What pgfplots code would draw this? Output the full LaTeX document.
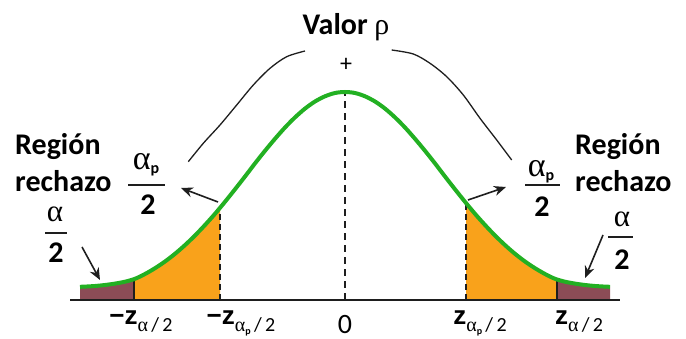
\documentclass[border=0pt]{standalone}
\usepackage{fontspec}
\setmainfont{Carlito}
\newfontfamily\grk{Liberation Serif}
\newfontfamily\lsans{Liberation Sans}
\usepackage{pgfplots}
\pgfplotsset{compat=1.18}
\usetikzlibrary{arrows.meta}
\definecolor{cgreen}{RGB}{34,176,34}
\definecolor{corange}{RGB}{249,162,27}
\definecolor{cbrown}{RGB}{140,76,86}
\definecolor{cline}{RGB}{30,30,30}
\newcommand\fs[1]{\fontsize{#1bp}{#1bp}\selectfont}
\newcommand\ap{{\grk α}\raisebox{-3bp}{\fs{10}\bfseries p}}
\begin{document}
\begin{tikzpicture}
\begin{axis}[scale only axis, width=686bp, height=339bp,
  xmin=-3.45, xmax=3.41, ymin=-39, ymax=300,
  axis lines=none, clip=false]
\coordinate (bbSW) at (rel axis cs:0,0);
\coordinate (bbNE) at (rel axis cs:1,1);
% filled regions
\addplot[fill=cbrown, draw=none] coordinates {(-2.65,0)(-2.65,13.2)(-2.6,13.4)(-2.5,14)(-2.4,15)(-2.3,16.4)(-2.2,18.3)(-2.11,20.9)(-2.11,0)};
\addplot[fill=corange, draw=none] coordinates {(-2.11,0)(-2.11,20.9)(-2.0,26)(-1.9,31.8)(-1.8,38.5)(-1.7,46.2)(-1.6,54.9)(-1.5,64.5)(-1.4,75)(-1.3,86.2)(-1.25,92.1)(-1.25,0)};
\addplot[fill=corange, draw=none] coordinates {(1.21,0)(1.21,97)(1.3,86.2)(1.4,75)(1.5,64.5)(1.6,54.9)(1.7,46.2)(1.8,38.5)(1.9,31.8)(2.0,26)(2.1,21.2)(2.12,20.6)(2.12,0)};
\addplot[fill=cbrown, draw=none] coordinates {(2.12,0)(2.12,20.6)(2.2,18.3)(2.3,16.4)(2.4,15)(2.5,14)(2.6,13.4)(2.65,13.2)(2.65,0)};
% baseline
\addplot[cline, line width=2bp] coordinates {(-2.75,0)(2.75,0)};
% vertical lines
\addplot[cline, line width=1.3bp] coordinates {(-2.11,0)(-2.11,20.9)};
\addplot[cline, line width=1.3bp] coordinates {(2.12,0)(2.12,20.6)};
\addplot[cline, line width=1.6bp, dash pattern=on 6bp off 4bp] coordinates {(-1.25,0)(-1.25,92.1)};
\addplot[cline, line width=1.6bp, dash pattern=on 6bp off 4bp] coordinates {(1.21,0)(1.21,97)};
\addplot[cline, line width=1.6bp, dash pattern=on 7bp off 5bp] coordinates {(0,0)(0,208)};
% curve
\addplot[cgreen, line width=4bp, smooth] coordinates {
(-2.65,13.2)(-2.6,13.4)(-2.5,14)(-2.4,15)(-2.3,16.4)(-2.2,18.3)(-2.1,21.2)(-2.0,26)(-1.9,31.8)(-1.8,38.5)(-1.7,46.2)(-1.6,54.9)(-1.5,64.5)(-1.4,75)(-1.3,86.2)(-1.2,98.2)(-1.1,110.7)(-1.0,123.5)(-0.9,136.6)(-0.8,149.2)(-0.7,161.2)(-0.6,172.5)(-0.5,182.6)(-0.4,191.4)(-0.3,198.5)(-0.2,203.7)(-0.1,207)(0,208)
(0.1,207)(0.2,203.7)(0.3,198.5)(0.4,191.4)(0.5,182.6)(0.6,172.5)(0.7,161.2)(0.8,149.2)(0.9,136.6)(1.0,123.5)(1.1,110.7)(1.2,98.2)(1.3,86.2)(1.4,75)(1.5,64.5)(1.6,54.9)(1.7,46.2)(1.8,38.5)(1.9,31.8)(2.0,26)(2.1,21.2)(2.2,18.3)(2.3,16.4)(2.4,15)(2.5,14)(2.6,13.4)(2.65,13.2)};
% outer arcs
\addplot[cline, line width=1.3bp, smooth] coordinates {(-1.567,138.3)(-1.417,156.7)(-1.25,175)(-1.083,195)(-0.917,215)(-0.75,231.7)(-0.583,243.3)(-0.40,249)};
\addplot[cline, line width=1.3bp, smooth] coordinates {(0.467,250)(0.683,246)(0.85,236.7)(1.017,223.3)(1.183,205)(1.35,181.7)(1.517,160)(1.667,140)};
% arrows
\addplot[cline, line width=1.6bp, -{Stealth[length=12bp,width=10bp]}] coordinates {(-1.27,98)(-1.64,112)};
\addplot[cline, line width=1.6bp, -{Stealth[length=12bp,width=10bp]}] coordinates {(1.23,100)(1.61,113)};
\addplot[cline, line width=1.6bp, -{Stealth[length=12bp,width=10bp]}] coordinates {(-2.63,53)(-2.45,20)};
\addplot[cline, line width=1.6bp, -{Stealth[length=12bp,width=10bp]}] coordinates {(2.58,65)(2.40,22)};
% texts
\node[anchor=base, inner sep=0] at (axis cs:0.01,265) {\fs{30}\bfseries Valor {\mdseries\grk ρ}};
\node[inner sep=0] at (axis cs:0.01,235) {\fs{24}+};
\node[anchor=base west, inner sep=0] at (axis cs:-3.30,145) {\fs{30}\bfseries Región};
\node[anchor=base west, inner sep=0] at (axis cs:-3.30,108) {\fs{30}\bfseries rechazo};
\node[anchor=base west, inner sep=0] at (axis cs:2.30,145) {\fs{30}\bfseries Región};
\node[anchor=base west, inner sep=0] at (axis cs:2.30,108) {\fs{30}\bfseries rechazo};
% fractions
\node[anchor=base, inner sep=0] at (axis cs:-1.99,130) {\fs{34}{\grk α}\raisebox{-4bp}{\fs{16}\bfseries p}};
\addplot[cline, line width=1.5bp] coordinates {(-2.17,115)(-1.80,115)};
\node[anchor=base, inner sep=0] at (axis cs:-1.97,85) {\fs{30}\bfseries 2};
\node[anchor=base, inner sep=0] at (axis cs:-2.90,78) {\fs{31}\grk α};
\addplot[cline, line width=1.5bp] coordinates {(-3.00,67)(-2.78,67)};
\node[anchor=base, inner sep=0] at (axis cs:-2.89,37) {\fs{30}\bfseries 2};
\node[anchor=base, inner sep=0] at (axis cs:1.96,123) {\fs{34}{\grk α}\raisebox{-4bp}{\fs{16}\bfseries p}};
\addplot[cline, line width=1.5bp] coordinates {(1.80,115)(2.15,115)};
\node[anchor=base, inner sep=0] at (axis cs:1.97,83) {\fs{30}\bfseries 2};
\node[anchor=base, inner sep=0] at (axis cs:2.77,73) {\fs{31}\grk α};
\addplot[cline, line width=1.5bp] coordinates {(2.63,63)(2.88,63)};
\node[anchor=base, inner sep=0] at (axis cs:2.77,30) {\fs{30}\bfseries 2};
% tick labels
\node[anchor=base, inner sep=0] at (axis cs:-2.04,-24) {{\fs{26}\lsans\bfseries −z}\raisebox{-7bp}{\fs{20}{\grk α}\,/\,2}};
\node[anchor=base, inner sep=0] at (axis cs:-1.04,-24) {{\fs{26}\lsans\bfseries −z}\raisebox{-7bp}{\fs{20}\ap\,/\,2}};
\node[anchor=base, inner sep=0] at (axis cs:0,-33) {\fs{28}0};
\node[anchor=base, inner sep=0] at (axis cs:1.35,-24) {{\fs{26}\lsans\bfseries z}\raisebox{-7bp}{\fs{20}\ap\,/\,2}};
\node[anchor=base, inner sep=0] at (axis cs:2.34,-24) {{\fs{26}\lsans\bfseries z}\raisebox{-7bp}{\fs{20}{\grk α}\,/\,2}};
\end{axis}
\pgfresetboundingbox
\useasboundingbox (bbSW) rectangle (bbNE);
\end{tikzpicture}
\end{document}
